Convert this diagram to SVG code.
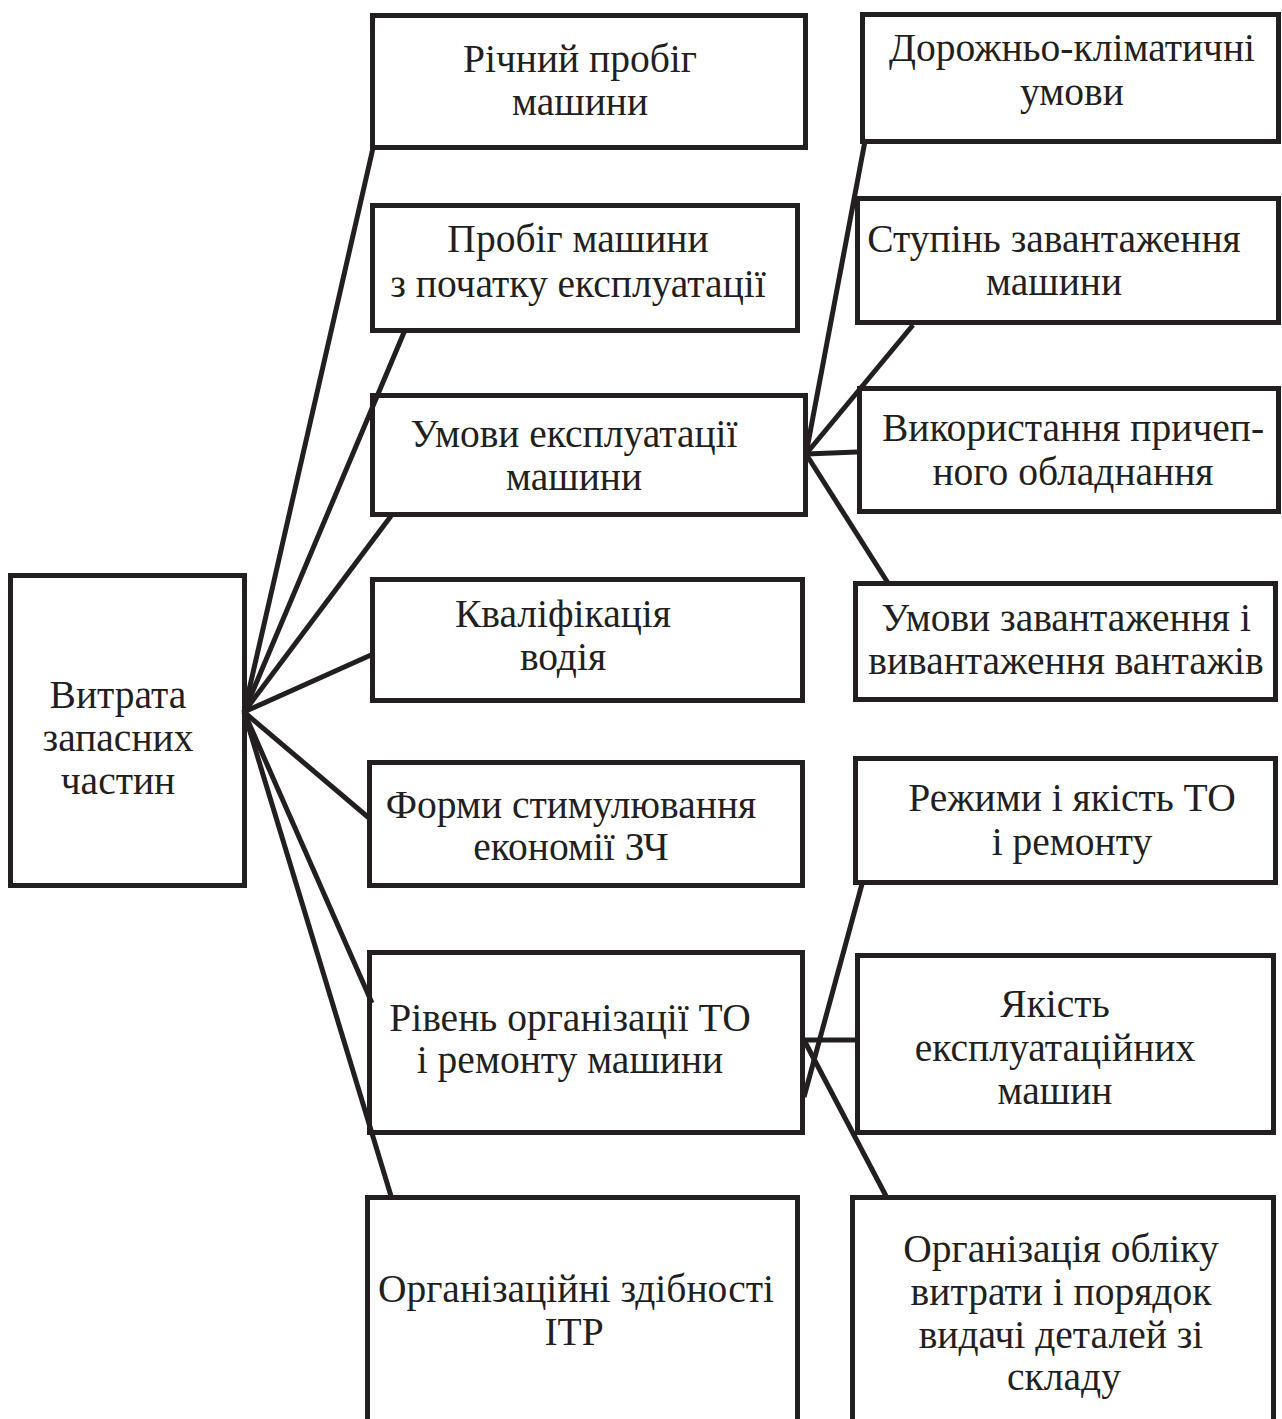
<svg xmlns="http://www.w3.org/2000/svg" width="1282" height="1419" viewBox="0 0 1282 1419">
<style>
.box{fill:none;stroke:#231f20;stroke-width:5}
.ln{fill:none;stroke:#231f20;stroke-width:5;stroke-linecap:butt}
text{font-family:"Liberation Serif","Times New Roman",serif;font-size:39.5px;fill:#231f20;text-anchor:middle}
</style>
<rect x="0" y="0" width="1282" height="1419" fill="#ffffff"/>
<g id="connectors">
<line class="ln" x1="244" y1="712" x2="373" y2="148"/>
<line class="ln" x1="244" y1="712" x2="405" y2="330"/>
<line class="ln" x1="244" y1="712" x2="391" y2="516"/>
<line class="ln" x1="244" y1="712" x2="371" y2="655"/>
<line class="ln" x1="244" y1="712" x2="369" y2="818"/>
<line class="ln" x1="244" y1="712" x2="372" y2="1003"/>
<line class="ln" x1="244" y1="712" x2="391" y2="1196"/>
<line class="ln" x1="806" y1="454" x2="865" y2="141"/>
<line class="ln" x1="806" y1="454" x2="913" y2="325"/>
<line class="ln" x1="806" y1="454" x2="857" y2="452"/>
<line class="ln" x1="806" y1="454" x2="888" y2="583"/>
<line class="ln" x1="804" y1="1097" x2="862" y2="884"/>
<line class="ln" x1="804" y1="1040" x2="856" y2="1040"/>
<line class="ln" x1="804" y1="1040" x2="886" y2="1196"/>
</g>
<g id="n0"><rect class="box" x="10.5" y="575.5" width="234" height="310"/>
<text x="118" y="708">Витрата</text><text x="118" y="751">запасних</text><text x="118" y="794">частин</text></g>
<g id="n1"><rect class="box" x="372.5" y="15.5" width="433" height="132"/>
<text x="580" y="72">Річний пробіг</text><text x="580" y="115">машини</text></g>
<g id="n2"><rect class="box" x="372.5" y="205.5" width="425" height="125"/>
<text x="578" y="252">Пробіг машини</text><text x="578" y="297">з початку експлуатації</text></g>
<g id="n3"><rect class="box" x="372.5" y="395.5" width="433" height="119"/>
<text x="574" y="447">Умови експлуатації</text><text x="574" y="490">машини</text></g>
<g id="n4"><rect class="box" x="372.5" y="579.5" width="430" height="121"/>
<text x="563" y="627">Кваліфікація</text><text x="563" y="670">водія</text></g>
<g id="n5"><rect class="box" x="369.5" y="762.5" width="433" height="123"/>
<text x="571" y="818">Форми стимулювання</text><text x="571" y="860">економії ЗЧ</text></g>
<g id="n6"><rect class="box" x="369.5" y="952.5" width="433" height="180"/>
<text x="570" y="1031">Рівень організації ТО</text><text x="570" y="1073">і ремонту машини</text></g>
<g id="n7"><rect class="box" x="367.5" y="1197.5" width="430" height="260"/>
<text x="576" y="1302">Організаційні здібності</text><text x="574" y="1345">ІТР</text></g>
<g id="r1"><rect class="box" x="862.5" y="14.5" width="416" height="127"/>
<text x="1072" y="61">Дорожньо-кліматичні</text><text x="1072" y="105">умови</text></g>
<g id="r2"><rect class="box" x="857.5" y="198.5" width="421" height="124"/>
<text x="1054" y="252">Ступінь завантаження</text><text x="1054" y="295">машини</text></g>
<g id="r3"><rect class="box" x="859.5" y="388.5" width="419" height="123"/>
<text x="1073" y="441">Використання причеп-</text><text x="1073" y="485">ного обладнання</text></g>
<g id="r4"><rect class="box" x="855.5" y="583.5" width="420" height="116"/>
<text x="1066" y="631">Умови завантаження і</text><text x="1066" y="674">вивантаження вантажів</text></g>
<g id="r5"><rect class="box" x="855.5" y="758.5" width="420" height="124"/>
<text x="1072" y="811">Режими і якість ТО</text><text x="1072" y="855">і ремонту</text></g>
<g id="r6"><rect class="box" x="857.5" y="955.5" width="416" height="177"/>
<text x="1055" y="1017">Якість</text><text x="1055" y="1061">експлуатаційних</text><text x="1055" y="1104">машин</text></g>
<g id="r7"><rect class="box" x="852.5" y="1197.5" width="421" height="260"/>
<text x="1061" y="1262">Організація обліку</text><text x="1061" y="1305">витрати і порядок</text><text x="1061" y="1348">видачі деталей зі</text><text x="1064" y="1390">складу</text></g>
</svg>
